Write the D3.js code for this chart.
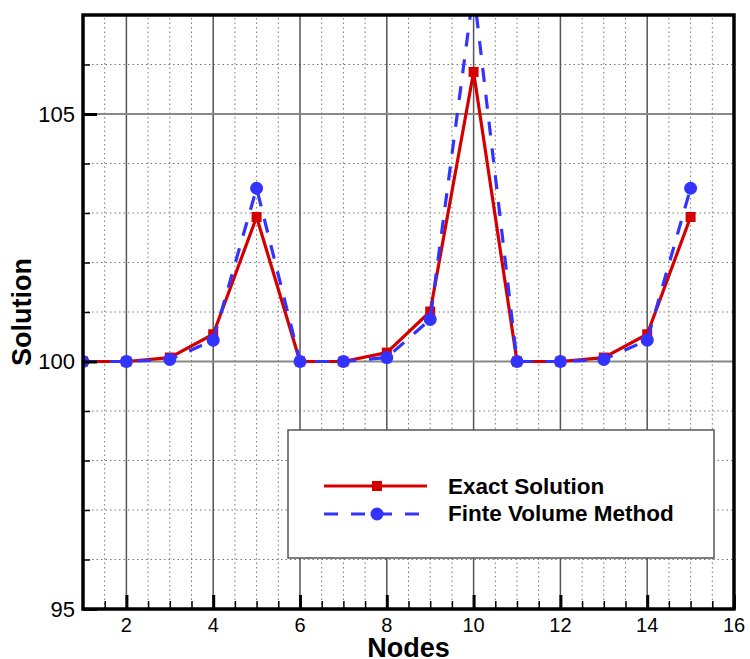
<!DOCTYPE html>
<html>
<head>
<meta charset="utf-8">
<script src="https://cdn.jsdelivr.net/npm/d3@7"></script>
<style>
	html, body { margin: 0; padding: 0; background: #fff; }
	svg { display: block; font-family: 'Liberation Sans', Arial, sans-serif; }
</style>
</head>
<body>
<div id="chart"></div>
<script>

// ----------------------------------
// DATA
// ----------------------------------

const nodes = [1, 2, 3, 4, 5, 6, 7, 8, 9, 10, 11, 12, 13, 14, 15];
const exactValues = [100, 100, 100.08, 100.55, 102.92, 100, 100, 100.18, 101.01, 105.85, 100, 100, 100.08, 100.55, 102.92];
const fvmValues = [100, 100, 100.04, 100.43, 103.5, 100, 100, 100.08, 100.85, 107.5, 100, 100, 100.04, 100.43, 103.5];
const xTickValues = [2, 4, 6, 8, 10, 12, 14, 16];
const yTickValues = [95, 100, 105];
const seriesNames = ['Exact Solution', 'Finte Volume Method'];

const width = 750,
	height = 659,
	margin = {top: 15, right: 16, bottom: 50, left: 83},
	innerWidth = width - margin.left - margin.right,
	innerHeight = height - margin.top - margin.bottom;

const red = '#d40000',
	blue = '#3333ff';

const svg = d3.select('#chart')
	.append('svg')
	.attr('width', width)
	.attr('height', height);

// ----------------------------------
// SCALES
// ----------------------------------

const xScale = d3.scaleLinear()
	.domain([1, 16])
	.range([margin.left, margin.left + innerWidth]);

const yScale = d3.scaleLinear()
	.domain([95, 107])
	.range([margin.top + innerHeight, margin.top]);

const xMinor = d3.range(1.5, 16, 0.5).filter(v => v % 2 !== 0);
const yMinor = d3.range(96, 107, 1).filter(v => v % 5 !== 0);

// ----------------------------------
// GRID
// ----------------------------------

const grid = svg.append('g').classed('grid', true);

grid.selectAll('.vminor')
	.data(xMinor)
	.join('line')
	.attr('x1', d => xScale(d)).attr('x2', d => xScale(d))
	.attr('y1', yScale.range()[0]).attr('y2', yScale.range()[1])
	.attr('stroke', '#777')
	.attr('stroke-width', 1)
	.attr('stroke-dasharray', '1.5,3');

grid.selectAll('.hminor')
	.data(yMinor)
	.join('line')
	.attr('x1', xScale.range()[0]).attr('x2', xScale.range()[1])
	.attr('y1', d => yScale(d)).attr('y2', d => yScale(d))
	.attr('stroke', '#777')
	.attr('stroke-width', 1)
	.attr('stroke-dasharray', '1.5,3');

grid.selectAll('.vmajor')
	.data(xTickValues)
	.join('line')
	.attr('x1', d => xScale(d)).attr('x2', d => xScale(d))
	.attr('y1', yScale.range()[0]).attr('y2', yScale.range()[1])
	.attr('stroke', '#555')
	.attr('stroke-width', 1.5);

grid.selectAll('.hmajor')
	.data(yTickValues)
	.join('line')
	.attr('x1', xScale.range()[0]).attr('x2', xScale.range()[1])
	.attr('y1', d => yScale(d)).attr('y2', d => yScale(d))
	.attr('stroke', '#888')
	.attr('stroke-width', 2);

// ----------------------------------
// LINES
// ----------------------------------

svg.append('clipPath')
	.attr('id', 'plot-clip')
	.append('rect')
	.attr('x', margin.left)
	.attr('y', margin.top)
	.attr('width', innerWidth)
	.attr('height', innerHeight);

const plot = svg.append('g').attr('clip-path', 'url(#plot-clip)');

const line = d3.line()
	.x(d => xScale(d[0]))
	.y(d => yScale(d[1]));

const exactData = nodes.map((n, i) => [n, exactValues[i]]);
const fvmData = nodes.map((n, i) => [n, fvmValues[i]]);

plot.append('path')
	.datum(exactData)
	.attr('d', line)
	.attr('fill', 'none')
	.attr('stroke', red)
	.attr('stroke-width', 3.2)
	.style('stroke-linejoin', 'round');

plot.selectAll('.sq')
	.data(exactData)
	.join('rect')
	.attr('x', d => xScale(d[0]) - 5)
	.attr('y', d => yScale(d[1]) - 5)
	.attr('width', 10)
	.attr('height', 10)
	.attr('fill', red);

plot.append('path')
	.datum(fvmData)
	.attr('d', line)
	.attr('fill', 'none')
	.attr('stroke', blue)
	.attr('stroke-width', 3.2)
	.attr('stroke-dasharray', '14,13');

plot.selectAll('.dot')
	.data(fvmData)
	.join('circle')
	.attr('cx', d => xScale(d[0]))
	.attr('cy', d => yScale(d[1]))
	.attr('r', 6.5)
	.attr('fill', blue);

// ----------------------------------
// AXES
// ----------------------------------

const xAxis = svg.append('g')
	.attr('transform', `translate(0, ${yScale(95)})`);

xAxis.append('g')
	.call(d3.axisTop(xScale).tickValues(xMinor).tickSize(8).tickFormat(''))
	.call(g => g.select('.domain').remove())
	.selectAll('.tick line').attr('stroke-width', 1.5);

xAxis.append('g')
	.call(d3.axisTop(xScale).tickValues(xTickValues).tickSize(14).tickFormat(''))
	.call(g => g.select('.domain').remove())
	.selectAll('.tick line').attr('stroke-width', 3);

xAxis.selectAll('.xlab')
	.data(xTickValues)
	.join('text')
	.attr('x', d => xScale(d))
	.attr('y', 23)
	.attr('text-anchor', 'middle')
	.style('font-size', '20px')
	.text(d => d);

const yAxis = svg.append('g')
	.attr('transform', `translate(${xScale(1)}, 0)`);

yAxis.append('g')
	.call(d3.axisRight(yScale).tickValues(yMinor).tickSize(7).tickFormat(''))
	.call(g => g.select('.domain').remove())
	.selectAll('.tick line').attr('stroke-width', 1.5);

yAxis.append('g')
	.call(d3.axisRight(yScale).tickValues(yTickValues).tickSize(14).tickFormat(''))
	.call(g => g.select('.domain').remove())
	.selectAll('.tick line').attr('stroke-width', 3);

yAxis.selectAll('.ylab')
	.data(yTickValues)
	.join('text')
	.attr('x', -8)
	.attr('y', d => yScale(d))
	.attr('dy', '0.36em')
	.attr('text-anchor', 'end')
	.style('font-size', '22px')
	.text(d => d);

// frame
svg.append('rect')
	.attr('x', margin.left)
	.attr('y', margin.top)
	.attr('width', innerWidth)
	.attr('height', innerHeight)
	.attr('fill', 'none')
	.attr('stroke', '#000')
	.attr('stroke-width', 3.5);

// ----------------------------------
// LEGEND
// ----------------------------------

const legend = svg.append('g').classed('legend', true);

legend.append('rect')
	.attr('x', 288)
	.attr('y', 430)
	.attr('width', 426)
	.attr('height', 128)
	.attr('fill', '#fff')
	.attr('stroke', '#555')
	.attr('stroke-width', 1.5);

legend.append('line')
	.attr('x1', 324).attr('x2', 427)
	.attr('y1', 486).attr('y2', 486)
	.attr('stroke', red)
	.attr('stroke-width', 3.2);

legend.append('rect')
	.attr('x', 372).attr('y', 481)
	.attr('width', 10).attr('height', 10)
	.attr('fill', red);

legend.append('line')
	.attr('x1', 324).attr('x2', 420)
	.attr('y1', 514).attr('y2', 514)
	.attr('stroke', blue)
	.attr('stroke-width', 3.2)
	.attr('stroke-dasharray', '14,13');

legend.append('circle')
	.attr('cx', 377).attr('cy', 514)
	.attr('r', 6.5)
	.attr('fill', blue);

legend.selectAll('.ltext')
	.data(seriesNames)
	.join('text')
	.attr('x', 448)
	.attr('y', (d, i) => 494 + i * 27)
	.style('font-size', '22.5px')
	.style('font-weight', 'bold')
	.text(d => d);

// ----------------------------------
// AXIS TITLES
// ----------------------------------

svg.append('text')
	.attr('x', margin.left + innerWidth / 2)
	.attr('y', 657)
	.attr('text-anchor', 'middle')
	.style('font-size', '27px')
	.style('font-weight', 'bold')
	.text('Nodes');

svg.append('text')
	.attr('transform', `translate(31, ${margin.top + innerHeight / 2}) rotate(-90)`)
	.attr('text-anchor', 'middle')
	.style('font-size', '27px')
	.style('font-weight', 'bold')
	.text('Solution');

</script>
</body>
</html>
